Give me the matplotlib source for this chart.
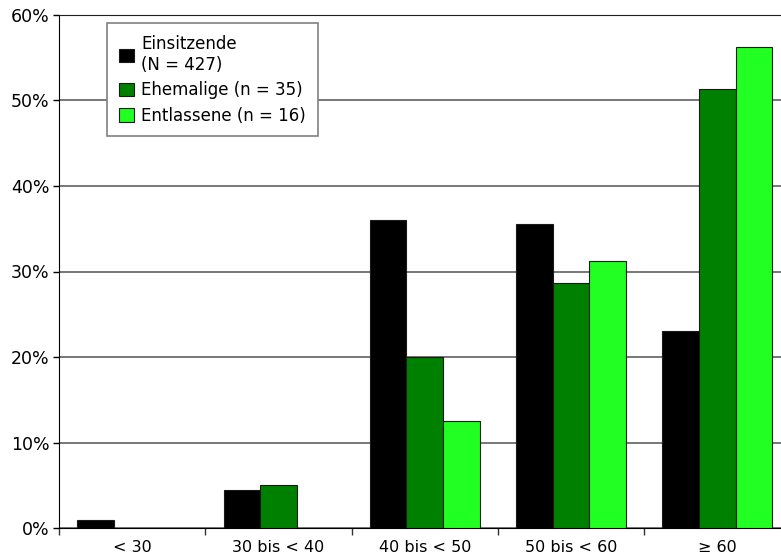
import numpy as np
import matplotlib.pyplot as plt

# Altersgruppen und Anteile (in %)
categories = ["< 30", "30 bis < 40", "40 bis < 50", "50 bis < 60", "≥ 60"]
einsitzende = [0.9, 4.4, 36.0, 35.6, 23.0]
ehemalige = [0.0, 5.0, 20.0, 28.6, 51.4]
entlassene = [0.0, 0.0, 12.5, 31.25, 56.25]
labels = ["Einsitzende\n(N = 427)", "Ehemalige (n = 35)", "Entlassene (n = 16)"]
colors = ["#000000", "#008000", "#22ff22"]

plt.rcParams['font.family'] = ['DejaVu Sans']

fig = plt.figure(figsize=(7.81, 5.6), dpi=100)
# axes runs a bit past the right edge, like the original
ax = fig.add_axes([59 / 781, 32 / 560, 731.5 / 781, 513 / 560])

x = np.arange(len(categories))
w = 0.25
for i, (vals, lab, col) in enumerate(zip([einsitzende, ehemalige, entlassene], labels, colors)):
    vals = np.array(vals)
    mask = vals > 0
    ax.bar(x[mask] + (i - 1) * w, vals[mask], width=w, color=col,
           edgecolor="#1a1a1a", linewidth=0.8, label=lab, zorder=3)

ax.set_xlim(-0.5, len(categories) - 0.5)
ax.set_ylim(0, 60)
ax.set_yticks(range(0, 61, 10))
ax.set_yticklabels([f"{v}%" for v in range(0, 61, 10)])
ax.set_xticks(x)
ax.set_xticklabels(categories)
ax.set_xticks(np.arange(-0.5, len(categories)), minor=True)
ax.tick_params(axis="x", which="major", length=0, labelsize=11.5, pad=9)
ax.tick_params(axis="x", which="minor", length=5, width=1, color="#333333")
ax.tick_params(axis="y", length=4, width=1, labelsize=12.5, pad=3)

ax.yaxis.grid(True, color="#606060", linewidth=1.2, zorder=0)
ax.set_axisbelow(True)
ax.spines["right"].set_visible(False)
ax.spines["top"].set_color("#1e1e1e")

leg = ax.legend(loc="upper left", bbox_to_anchor=(0.0656, 0.984), borderaxespad=0,
                fancybox=False, framealpha=1, edgecolor="#808080", fontsize=12,
                handlelength=0.9, handleheight=0.9, handletextpad=0.45,
                labelspacing=0.45, borderpad=0.7)
leg.get_frame().set_linewidth(1.2)

fig.savefig("out.png", dpi=100)
